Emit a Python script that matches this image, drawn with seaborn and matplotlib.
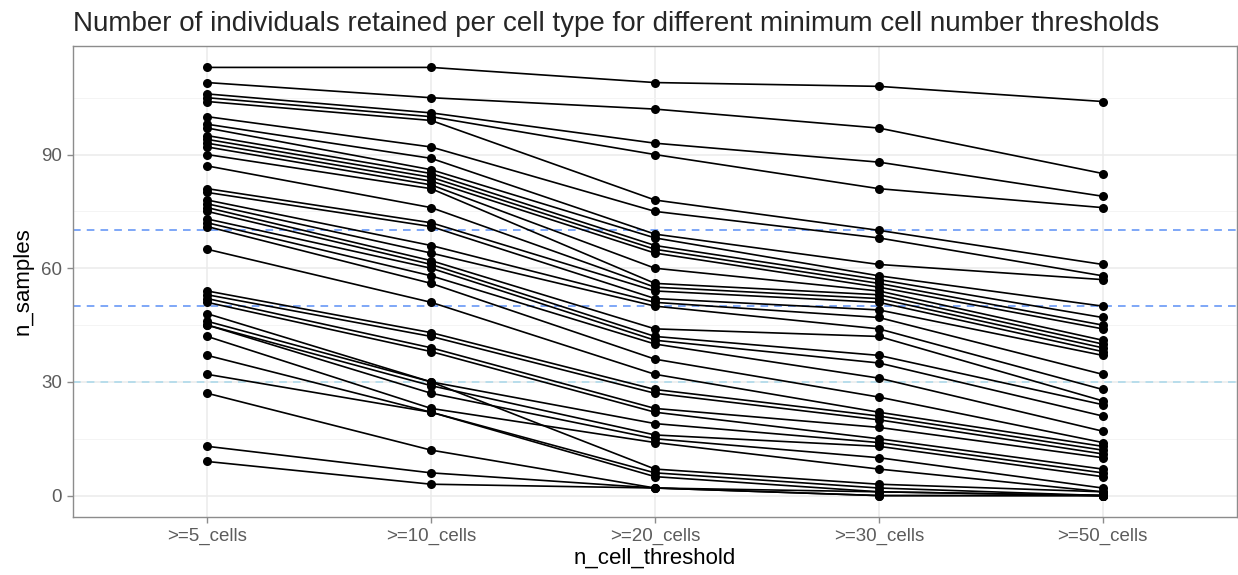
import numpy as np
import pandas as pd
import matplotlib
matplotlib.use('Agg')
import matplotlib.pyplot as plt
import seaborn as sns
from matplotlib.ticker import MultipleLocator

# thresholds on the x axis
thresholds = [">=5_cells", ">=10_cells", ">=20_cells", ">=30_cells", ">=50_cells"]

# n_samples per cell type (one entry per cell type, same order in every list)
n_5 = [113, 109, 106, 105, 104, 100, 98, 97, 95, 94, 93, 92, 90, 87, 81, 80, 78, 77, 76,
       75, 73, 72, 71, 65, 54, 53, 52, 51, 48, 46, 45, 45, 42, 37, 32, 27, 13, 9]
n_10 = [113, 105, 101, 100, 99, 92, 89, 86, 85, 84, 83, 82, 81, 76, 72, 71, 66, 64, 62,
        61, 60, 58, 56, 51, 43, 42, 39, 38, 30, 30, 29, 27, 23, 22, 22, 12, 6, 3]
n_20 = [109, 102, 93, 90, 78, 75, 69, 68, 66, 65, 64, 60, 56, 55, 54, 52, 51, 50, 44,
        42, 41, 40, 36, 32, 28, 27, 23, 22, 7, 19, 16, 15, 14, 6, 5, 2, 2, 2]
n_30 = [108, 97, 88, 81, 70, 68, 61, 58, 57, 56, 55, 54, 53, 52, 51, 49, 47, 44, 42,
        37, 35, 31, 26, 22, 21, 20, 18, 15, 3, 14, 13, 10, 7, 2, 1, 1, 0, 0]
n_50 = [104, 85, 79, 76, 61, 58, 57, 50, 47, 45, 44, 41, 40, 39, 38, 37, 32, 28, 25,
        24, 21, 17, 14, 13, 12, 11, 10, 7, 1, 6, 5, 2, 1, 0, 0, 0, 0, 0]

# reference lines
hline_vals = [70, 50, 30]
hline_cols = ["#5b8ff5", "#5b8ff5", "#a9d8ea"]

cols = [n_5, n_10, n_20, n_30, n_50]
rows = []
for j, vals in enumerate(cols):
    for i, v in enumerate(vals):
        rows.append({"cell_type": f"ct{i}", "pos": j, "n_cell_threshold": thresholds[j], "n_samples": v})
df = pd.DataFrame(rows)

sns.set_theme(style="white")
plt.rcParams['font.family'] = ['Liberation Sans', 'DejaVu Sans']

fig = plt.figure(figsize=(12.38, 5.75), dpi=100)
ax = fig.add_axes([73 / 1238, 1 - 517 / 575, (1237 - 73) / 1238, (517 - 46) / 575])

# grid like theme_bw
ax.yaxis.set_major_locator(MultipleLocator(30))
ax.yaxis.set_minor_locator(MultipleLocator(15))
ax.grid(which="major", color="#ebebeb", lw=1.1)
ax.grid(which="minor", axis="y", color="#f4f4f4", lw=0.7)
ax.set_axisbelow(True)

for v, c in zip(hline_vals, hline_cols):
    ax.axhline(v, color=c, lw=1.1, dashes=(5, 4), zorder=1)

sns.lineplot(data=df, x="pos", y="n_samples", units="cell_type", estimator=None,
             color="black", lw=1.2, marker="o", markersize=6.5, markeredgewidth=0,
             ax=ax, zorder=3)

ax.set_xlim(-0.6, 4.6)
ax.set_ylim(-5.65, 118.65)
ax.set_xticks(range(len(thresholds)))
ax.set_xticklabels(thresholds)

for s in ax.spines.values():
    s.set_color("#8c8c8c")
    s.set_linewidth(1.0)
ax.tick_params(axis="both", which="major", length=4, width=1, color="#8c8c8c",
               labelsize=13.5, labelcolor="#5c5c5c", pad=4, left=True, bottom=True)
ax.tick_params(axis="y", which="minor", length=0)

ax.set_xlabel("n_cell_threshold", fontsize=16, color="black", labelpad=2)
ax.set_ylabel("n_samples", fontsize=16, color="black", labelpad=5)
ax.set_title("Number of individuals retained per cell type for different minimum cell number thresholds",
             fontsize=20, loc="left", pad=11)

plt.savefig("out.png", dpi=100)
plt.close()
